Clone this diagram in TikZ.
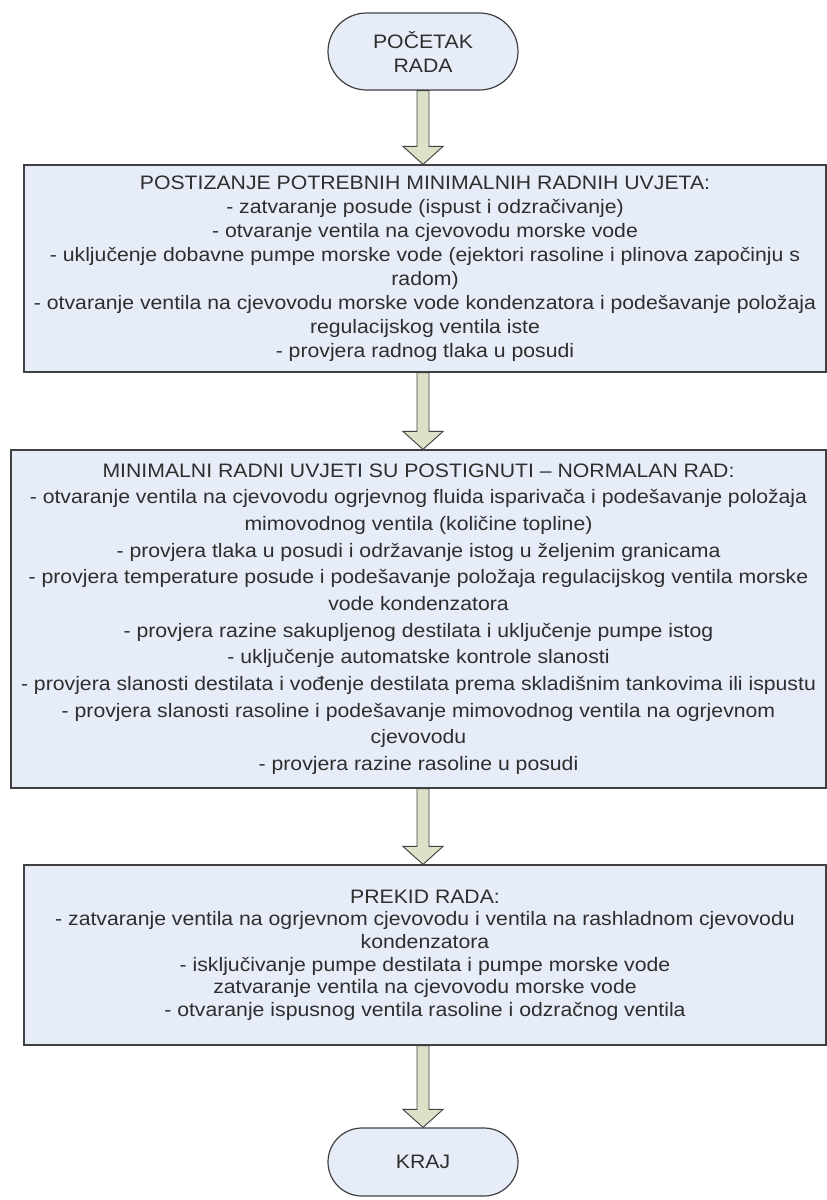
\documentclass[tikz,border=0pt]{standalone}
\usepackage{fontspec}
\setmainfont{Liberation Sans}[FakeStretch=1.09]
\usetikzlibrary{shapes.misc, calc}
\definecolor{boxblue}{RGB}{230,236,248}
\definecolor{arrowgreen}{RGB}{220,226,199}
\definecolor{edgegray}{RGB}{64,64,64}
\begin{document}
\begin{tikzpicture}[x=0.75pt, y=-0.75pt, font=\fontsize{14.6pt}{18pt}\selectfont, text=black!82,
          term/.style={draw=edgegray, fill=boxblue, rounded rectangle, line width=0.9pt, align=center, minimum width=142.5pt, inner sep=0pt},
          stepbox/.style={draw=edgegray, fill=boxblue, line width=0.9pt, align=center, inner sep=0pt},
          blockarrow/.style={draw=edgegray, fill=arrowgreen, line width=0.7pt,
            to path={let \p1=(\tikztostart), \p2=(\tikztotarget) in
              (\x2-4.5pt,\y1) -- (\x2-4.5pt,\y2+13.5pt) -- (\x2-15pt,\y2+13.5pt) -- (\x2,\y2)
              -- (\x2+15pt,\y2+13.5pt) -- (\x2+4.5pt,\y2+13.5pt) -- (\x2+4.5pt,\y1) -- cycle}}]
        \useasboundingbox (0,0) rectangle (827,1200);
        \node[term, minimum height=57.75pt] (start) at (423,51.5) {POČETAK\\RADA};
        \node[stepbox, minimum width=601.5pt, minimum height=155.25pt] (setup) at (425,268.5)
          {POSTIZANJE POTREBNIH MINIMALNIH RADNIH UVJETA:\\
           - zatvaranje posude (ispust i odzračivanje)\\
           - otvaranje ventila na cjevovodu morske vode\\
           - uključenje dobavne pumpe morske vode (ejektori rasoline i plinova započinju s\\
           radom)\\
           - otvaranje ventila na cjevovodu morske vode kondenzatora i podešavanje položaja\\
           regulacijskog ventila iste\\
           - provjera radnog tlaka u posudi};
        \node[stepbox, minimum width=611.25pt, minimum height=253.5pt,
              font=\fontsize{14.6pt}{20pt}\selectfont] (run) at (418.5,619)
          {MINIMALNI RADNI UVJETI SU POSTIGNUTI – NORMALAN RAD:\\
           - otvaranje ventila na cjevovodu ogrjevnog fluida isparivača i podešavanje položaja\\
           mimovodnog ventila (količine topline)\\
           - provjera tlaka u posudi i održavanje istog u željenim granicama\\
           - provjera temperature posude i podešavanje položaja regulacijskog ventila morske\\
           vode kondenzatora\\
           - provjera razine sakupljenog destilata i uključenje pumpe istog\\
           - uključenje automatske kontrole slanosti\\
           - provjera slanosti destilata i vođenje destilata prema skladišnim tankovima ili ispustu\\
           - provjera slanosti rasoline i podešavanje mimovodnog ventila na ogrjevnom\\
           cjevovodu\\
           - provjera razine rasoline u posudi};
        \node[stepbox, minimum width=601.5pt, minimum height=135pt,
              font=\fontsize{14.6pt}{17pt}\selectfont] (stop) at (425,955)
          {PREKID RADA:\\
           - zatvaranje ventila na ogrjevnom cjevovodu i ventila na rashladnom cjevovodu\\
           kondenzatora\\
           - isključivanje pumpe destilata i pumpe morske vode\\
           zatvaranje ventila na cjevovodu morske vode\\
           - otvaranje ispusnog ventila rasoline i odzračnog ventila};
        \node[term, minimum height=51pt] (end) at (423,1162) {KRAJ};
        \draw[blockarrow] (start.south) to (start.south |- setup.north);
        \draw[blockarrow] (setup.south -| start.south) to (start.south |- run.north);
        \draw[blockarrow] (run.south -| start.south) to (start.south |- stop.north);
        \draw[blockarrow] (stop.south -| start.south) to (end.north);
      \end{tikzpicture}
\end{document}
